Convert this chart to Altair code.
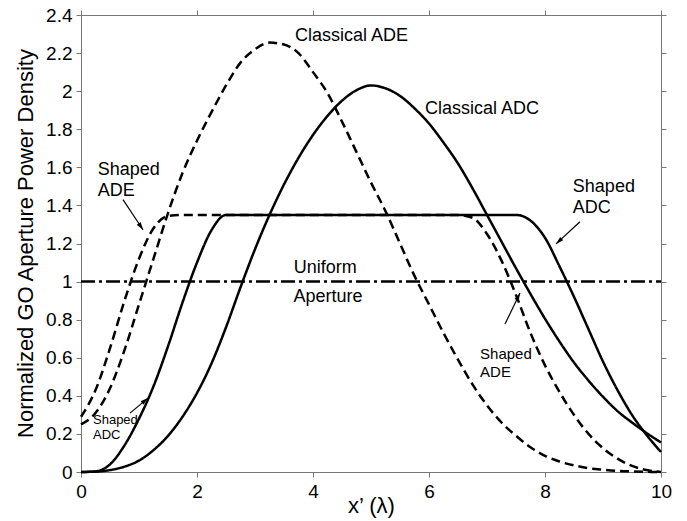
import math
import altair as alt
import pandas as pd

# ---------------- data ----------------
X_POS = [0, 0.25, 0.5, 0.75, 1.0, 1.25, 1.5, 1.75, 2.0, 2.25, 2.5, 2.75, 3.0, 3.25,
         3.5, 3.75, 4.0, 4.25, 4.5, 4.75, 5.0, 5.25, 5.5, 5.75, 6.0, 6.25, 6.5, 6.75,
         7.0, 7.25, 7.5, 7.75, 8.0, 8.25, 8.5, 8.75, 9.0, 9.25, 9.5, 9.75, 10.0]

Y_CLASSICAL_ADE = [0.25, 0.31, 0.44, 0.64, 0.88, 1.12, 1.36, 1.57, 1.74, 1.89, 2.03, 2.15,
                   2.22, 2.255, 2.245, 2.20, 2.10, 1.99, 1.84, 1.68, 1.52, 1.37, 1.20, 1.03,
                   0.88, 0.73, 0.59, 0.46, 0.35, 0.26, 0.19, 0.13, 0.085, 0.055, 0.035, 0.02,
                   0.012, 0.006, 0.003, 0.001, 0.0]

Y_SHAPED_ADE = [0.29, 0.43, 0.65, 0.90, 1.12, 1.28, 1.345, 1.35,
                1.35, 1.35, 1.35, 1.35, 1.35, 1.35, 1.35, 1.35, 1.35, 1.35, 1.35, 1.35,
                1.35, 1.35, 1.35, 1.35, 1.35, 1.35, 1.35,
                1.335, 1.25, 1.11, 0.93, 0.73, 0.56, 0.42, 0.30, 0.20, 0.125, 0.07, 0.032,
                0.01, 0.0]

Y_CLASSICAL_ADC = [0.0, 0.002, 0.01, 0.028, 0.06, 0.115, 0.19, 0.29, 0.415, 0.57, 0.76,
                   0.97, 1.17, 1.35, 1.51, 1.65, 1.77, 1.87, 1.95, 2.005, 2.03, 2.015, 1.975,
                   1.91, 1.83, 1.73, 1.62, 1.49, 1.35, 1.21, 1.07, 0.935, 0.805, 0.685, 0.575,
                   0.48, 0.395, 0.32, 0.26, 0.205, 0.155]

Y_SHAPED_ADC = [0.0, 0.003, 0.04, 0.14, 0.28, 0.45, 0.66, 0.89, 1.10, 1.27,
                1.35, 1.35, 1.35, 1.35, 1.35, 1.35, 1.35, 1.35, 1.35, 1.35, 1.35,
                1.35, 1.35, 1.35, 1.35, 1.35, 1.35, 1.35, 1.35, 1.35, 1.35,
                1.32, 1.23, 1.08, 0.92, 0.75, 0.58, 0.43, 0.30, 0.195, 0.105]

X_UNIFORM = [0.0, 10.0]
Y_UNIFORM = [1.0, 1.0]

X_TICKS = [0, 2, 4, 6, 8, 10]
Y_TICKS = [0, 0.2, 0.4, 0.6, 0.8, 1, 1.2, 1.4, 1.6, 1.8, 2, 2.2, 2.4]

LABEL_TEXT = ["Classical ADE", "Classical ADC", "Shaped", "ADC", "Shaped", "ADE",
              "Shaped", "ADE", "Shaped", "ADC"]
LABEL_X = [3.69, 5.93, 8.48, 8.48, 0.29, 0.29, 6.88, 6.88, 0.207, 0.207]
LABEL_Y = [2.288, 1.904, 1.497, 1.387, 1.588, 1.477, 0.619, 0.525, 0.272, 0.193]
LABEL_SIZE = [18, 18, 18, 18, 18, 18, 15, 15, 13, 13]

CENTER_TEXT = ["Uniform", "Aperture"]
CENTER_X = [4.21, 4.26]
CENTER_Y = [1.072, 0.919]

ARROW_TAIL_X = [0.724, 8.603, 0.845, 7.31]
ARROW_TAIL_Y = [1.430, 1.314, 0.309, 0.777]
ARROW_HEAD_X = [1.069, 8.19, 1.155, 7.569]
ARROW_HEAD_Y = [1.272, 1.198, 0.388, 0.94]

# ---------------- layout ----------------
W, H = 580, 457
FONT = "Liberation Sans"
AX = "#777777"

xs = alt.Scale(domain=[0, 10], nice=False, zero=False)
ys = alt.Scale(domain=[0, 2.4], nice=False, zero=False)

series_names = ["Classical ADE", "Shaped ADE", "Classical ADC", "Shaped ADC", "Uniform"]
rows = []
for name, yv in [("Classical ADE", Y_CLASSICAL_ADE), ("Shaped ADE", Y_SHAPED_ADE),
                 ("Classical ADC", Y_CLASSICAL_ADC), ("Shaped ADC", Y_SHAPED_ADC)]:
    for xv, v in zip(X_POS, yv):
        rows.append({"x": xv, "y": v, "series": name})
for xv, v in zip(X_UNIFORM, Y_UNIFORM):
    rows.append({"x": xv, "y": v, "series": "Uniform"})
curves = pd.DataFrame(rows)

bottom_axis = alt.Axis(values=X_TICKS, format="~r", title="x\u2019 (\u03bb)", grid=False,
                       tickSize=5, labelPadding=5, labelFontSize=19, labelColor="black",
                       tickColor=AX, domainColor=AX, titleFontSize=22, titleFontWeight="normal",
                       titleColor="black", titleY=33, titleBaseline="middle", labelFlush=False)
left_axis = alt.Axis(values=Y_TICKS, format="~r", title="Normalized GO Aperture Power Density",
                     grid=False, tickSize=5, labelPadding=4, labelFontSize=19,
                     labelColor="black", tickColor=AX, domainColor=AX, titleFontSize=22,
                     titleFontWeight="normal", titleColor="black", titleX=-56, titleY=228,
                     titleAngle=270, titleBaseline="middle", titleAlign="center",
                     labelFlush=False)

lines = alt.Chart(curves).mark_line(strokeWidth=2.5, interpolate="monotone", color="black").encode(
    x=alt.X("x:Q", scale=xs, axis=bottom_axis),
    y=alt.Y("y:Q", scale=ys, axis=left_axis),
    strokeDash=alt.StrokeDash("series:N", legend=None, scale=alt.Scale(
        domain=series_names,
        range=[[9, 5], [9, 5], [1, 0], [1, 0], [14, 4, 3, 4]])),
)

frame_df = pd.DataFrame({"x": X_UNIFORM, "y": Y_UNIFORM})
frame = alt.Chart(frame_df).mark_point(opacity=0).encode(
    x=alt.X("x:Q", scale=xs, axis=alt.Axis(orient="top", values=X_TICKS, labels=False, title="",
                                             grid=False, tickSize=5, tickColor=AX, domainColor=AX)),
    y=alt.Y("y:Q", scale=ys, axis=alt.Axis(orient="right", values=Y_TICKS, labels=False, title="",
                                             grid=False, tickSize=5, tickColor=AX, domainColor=AX)),
)

lab_df = pd.DataFrame({"x": LABEL_X, "y": LABEL_Y, "t": LABEL_TEXT, "s": LABEL_SIZE})
labels = alt.Chart(lab_df).mark_text(align="left", baseline="middle", color="black", font=FONT).encode(
    x=alt.X("x:Q", scale=xs, axis=None),
    y=alt.Y("y:Q", scale=ys, axis=None),
    text="t:N",
    size=alt.Size("s:Q", scale=None),
)

cen_df = pd.DataFrame({"x": CENTER_X, "y": CENTER_Y, "t": CENTER_TEXT})
centered = alt.Chart(cen_df).mark_text(align="center", baseline="middle", color="black",
                                       font=FONT, fontSize=18).encode(
    x=alt.X("x:Q", scale=xs, axis=None),
    y=alt.Y("y:Q", scale=ys, axis=None),
    text="t:N",
)

angles = []
for tx, ty, hx, hy in zip(ARROW_TAIL_X, ARROW_TAIL_Y, ARROW_HEAD_X, ARROW_HEAD_Y):
    dx = (hx - tx) * W / 10.0
    dy = -(hy - ty) * H / 2.4
    angles.append(math.degrees(math.atan2(dx, -dy)) % 360)
arr_df = pd.DataFrame({"tx": ARROW_TAIL_X, "ty": ARROW_TAIL_Y, "hx": ARROW_HEAD_X,
                       "hy": ARROW_HEAD_Y, "a": angles})
shafts = alt.Chart(arr_df).mark_rule(color="black", strokeWidth=1.2).encode(
    x=alt.X("tx:Q", scale=xs, axis=None), y=alt.Y("ty:Q", scale=ys, axis=None),
    x2="hx:Q", y2="hy:Q",
)
heads = alt.Chart(arr_df).mark_point(shape="M0,0L-0.6,2L0.6,2Z", filled=True, color="black",
                                     opacity=1, size=60).encode(
    x=alt.X("hx:Q", scale=xs, axis=None), y=alt.Y("hy:Q", scale=ys, axis=None),
    angle=alt.Angle("a:Q", scale=None),
)

chart = alt.layer(lines, frame, labels, centered, shafts, heads).resolve_axis(
    x="independent", y="independent"
).properties(
    width=W, height=H,
    padding={"left": 81, "top": 15, "right": 26, "bottom": 49},
    autosize=alt.AutoSizeParams(type="none"),
).configure(font=FONT).configure_view(stroke="transparent").configure_axis(
    labelFont=FONT, titleFont=FONT
)

chart.save("out.html", embed_options={"renderer": "svg", "actions": False})
